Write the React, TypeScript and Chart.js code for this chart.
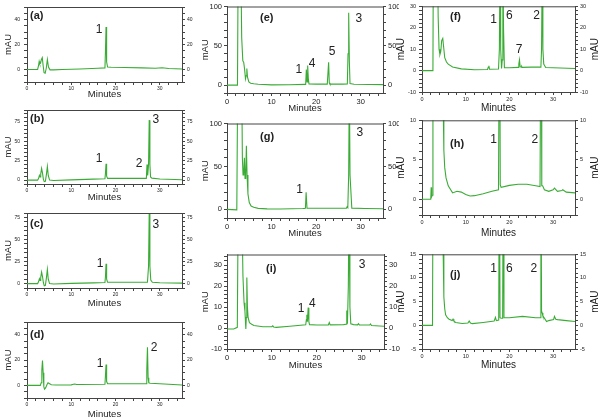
import React, { useEffect, useRef } from 'react';
import { Chart, registerables } from 'chart.js';
Chart.register(...registerables);

const FONT = '"Liberation Sans", Arial, Helvetica, sans-serif';
const GREEN = '#3aac35';
const AXIS = '#444444';

// ---------- Panel (a) ----------
const aTime = [0, 2.4, 2.6, 2.75, 2.9, 3.05, 3.25, 3.45, 3.65, 3.85, 4.1, 4.35, 4.6, 4.85, 5.2, 6, 8, 12, 16, 17.6, 17.72, 17.85, 17.98, 18.2, 19, 22, 26, 29, 30.5, 32, 35];
const aMAU = [0, 0, 3, 6.5, 4.5, 5, 8, 9.5, 3, -2.5, -3, 1, 8, 2, -0.3, -0.3, 0, 0.4, 1.0, 1.3, 15, 34, 6, 2, 1.8, 1.6, 1.3, 1.0, 1.4, 0.8, 0.4];
const aPeakText = ['1'];
const aPeakX = [16.3];
const aPeakY = [32];
const aYTicks = [0, 20, 40];

// ---------- Panel (b) ----------
const bTime = [0, 2.4, 2.6, 2.8, 2.95, 3.1, 3.3, 3.5, 3.7, 3.9, 4.15, 4.4, 4.6, 4.8, 5.1, 6, 10, 15, 17.6, 17.72, 17.85, 17.98, 18.2, 22, 26.95, 27.1, 27.25, 27.45, 27.6, 27.75, 27.9, 28.2, 30, 35];
const bMAU = [0, 0, 2, 6, 4, 8, 15, 9, 1, -2, -1.5, 8, 17.5, 6, 0, -0.5, 0.3, 1.2, 1.8, 9, 21, 5, 2.2, 2.2, 2.2, 20, 6, 20, 77, 20, 4, 2.5, 1.5, 0.5];
const bPeakText = ['1', '2', '3'];
const bPeakX = [16.3, 25.3, 29.1];
const bPeakY = [28, 21.5, 77];
const bYTicks = [0, 25, 50, 75];

// ---------- Panel (c) ----------
const cTime = [0, 2.4, 2.6, 2.8, 2.95, 3.1, 3.3, 3.5, 3.7, 3.9, 4.15, 4.4, 4.6, 4.8, 5.1, 6, 10, 15, 17.6, 17.72, 17.85, 17.98, 18.2, 22, 27.2, 27.45, 27.6, 27.75, 27.95, 28.3, 30, 35];
const cMAU = [0, 0, 2, 5.5, 3.5, 7, 13, 8, 1, -2.5, -2, 7, 16, 5, 0, -0.5, 0.2, 0.8, 1.2, 8, 22.5, 5, 1.5, 1.5, 1.5, 20, 82, 20, 4, 1.5, 1.0, 0.5];
const cPeakText = ['1', '3'];
const cPeakX = [16.5, 29.1];
const cPeakY = [23, 66.5];
const cYTicks = [0, 25, 50, 75];

// ---------- Panel (d) ----------
const dTime = [0, 3.0, 3.2, 3.35, 3.5, 3.65, 3.8, 3.95, 4.2, 4.5, 4.75, 5.0, 5.5, 6.5, 10, 10.5, 10.8, 11.2, 12, 17.6, 17.72, 17.85, 17.98, 18.2, 22, 26.9, 27.05, 27.2, 27.35, 27.5, 27.8, 30, 35];
const dMAU = [0, 0, 2, 12, 19.5, 10, -1, -3, -2, 0.5, 2, 1.5, 0.5, 0.3, 0.4, 0.9, 1.1, 0.7, 0.6, 0.9, 8, 16.5, 3, 1.2, 1.2, 1.3, 12, 30, 6, 2, 1.6, 1.3, 0.3];
const dPeakText = ['1', '2'];
const dPeakX = [16.5, 28.7];
const dPeakY = [17, 29.6];
const dYTicks = [0, 20, 40];

// ---------- Panel (e) ----------
const eTime = [0, 2.35, 2.5, 3.1, 3.3, 3.55, 3.75, 3.95, 4.15, 4.3, 4.45, 4.6, 4.9, 5.3, 6, 7, 10, 14, 17.5, 17.65, 17.8, 17.95, 18.1, 18.25, 18.4, 20, 22.5, 22.65, 22.8, 22.95, 23.1, 26, 27.0, 27.15, 27.3, 27.45, 27.6, 28.5, 32, 35];
const eMAU = [0, 0, 150, 150, 60, 31, 29, 20, 8, 12, 21, 10, 4, 2.5, 1.8, 1.2, 0.3, 0.5, 1.0, 1.2, 20, 4, 25, 8, 1.5, 1.3, 1.3, 1.3, 29, 3, 1.3, 1.3, 1.5, 40, 92, 30, 2, 1.2, 0.8, 0.6];
const ePeakText = ['1', '4', '5', '3'];
const ePeakX = [16.1, 19.1, 23.6, 29.6];
const ePeakY = [20, 27, 43, 84];
const eYTicks = [0, 50, 100];

// ---------- Panel (g) ----------
const gTime = [0, 2.2, 2.4, 3.3, 3.45, 3.6, 3.75, 3.9, 4.05, 4.2, 4.35, 4.5, 4.7, 5.0, 5.4, 6, 7, 9, 12, 17, 17.45, 17.6, 17.75, 17.95, 20, 26.8, 26.95, 27.1, 27.3, 27.45, 27.6, 28, 31, 35];
const gMAU = [0, -0.5, 150, 150, 60, 40, 42, 60, 36, 40, 74, 40, 18, 8, 4, 2.5, 1.2, 0.6, 0.5, 1.0, 1.2, 1.5, 20, 1.3, 1.3, 1.5, 3, 2, 40, 150, 40, 1.5, 1.0, 0.7];
const gPeakText = ['1', '3'];
const gPeakX = [16.3, 29.8];
const gPeakY = [22.5, 89.6];
const gYTicks = [0, 50, 100];

// ---------- Panel (i) ----------
const iTime = [0, 1.5, 2.3, 2.5, 3.3, 3.55, 3.8, 4.0, 4.2, 4.3, 4.42, 4.55, 4.7, 5.0, 5.5, 6, 8, 10, 10.2, 10.4, 11, 14, 17.55, 17.7, 17.8, 17.92, 18.1, 18.25, 18.4, 20, 22.6, 22.8, 23.0, 26, 26.55, 26.7, 26.85, 27.05, 27.2, 27.4, 27.6, 28.2, 29.1, 29.3, 29.5, 31.8, 32, 32.2, 35];
const iMAU = [-0.5, -0.5, 0.3, 60, 60, 25, 12, 8, -0.5, 5, 24, 10, 5, 2.5, 1.8, 1.2, 0.6, 0.6, 1.0, 0.5, 0.3, 0.8, 1.5, 4, 6.3, 3, 9.7, 3, 1.6, 1.4, 1.5, 2.6, 1.5, 1.6, 1.8, 8.3, 2, 20, 60, 10, 2, 1.6, 1.5, 2.1, 1.5, 1.4, 1.9, 1.2, 0.8];
const iPeakText = ['1', '4', '3'];
const iPeakX = [16.5, 19.0, 30.1];
const iPeakY = [9.4, 11.8, 30.3];
const iYTicks = [-10, 0, 10, 20, 30];

// ---------- Panel (f) ----------
const fTime = [0, 2.5, 2.6, 3.5, 3.7, 3.9, 4.1, 4.3, 4.5, 4.75, 4.95, 5.2, 5.6, 6, 7, 9, 12, 15, 15.15, 15.3, 15.45, 17.5, 17.7, 17.85, 18.0, 18.2, 18.35, 18.5, 18.65, 18.85, 20, 22, 22.15, 22.3, 22.45, 22.7, 22.8, 22.9, 25, 27.2, 27.35, 27.5, 27.65, 27.85, 28.0, 28.3, 30, 35];
const fMAU = [0, 0, 60, 60, 25, 10, 7.5, 9, 14, 15, 11, 6, 4, 3, 1.7, 0.8, 0.4, 0.5, 1.5, 2.2, 0.6, 0.7, 10, 50, 10, 1.0, 5, 50, 20, 1.3, 1.3, 1.5, 3, 5, 1.8, 1.6, 1.9, 1.5, 1.6, 1.6, 10, 50, 10, 3, 2.5, 1.4, 1.3, 1.0];
const fPeakText = ['1', '6', '2', '7'];
const fPeakX = [16.4, 20, 26.2, 22.2];
const fPeakY = [23.7, 25.8, 25.8, 9.8];
const fYTicks = [-10, 0, 10, 20, 30];

// ---------- Panel (h) ----------
const hTime = [0, 2.0, 2.1, 2.2, 2.35, 2.5, 4.7, 4.85, 5.0, 5.2, 5.5, 6, 7, 8, 9, 10, 11, 12, 14, 16, 17.5, 17.6, 17.75, 17.9, 18.1, 20, 22, 24, 26, 27.0, 27.1, 27.25, 27.4, 27.6, 28, 29, 30, 30.3, 31, 32, 32.2, 33, 35];
const hMAU = [0, 0, 1.5, 0.3, 0.5, 30, 30, 12, 6.2, 4, 2.7, 1.7, 0.8, 1.0, 0.9, 0.6, 0.4, 0.45, 0.7, 1.0, 1.2, 1.2, 30, 1.8, 1.5, 1.75, 1.9, 1.9, 1.7, 1.6, 1.6, 30, 1.7, 1.7, 1.2, 1.0, 1.2, 1.4, 1.0, 1.1, 1.2, 0.9, 0.8];
const hPeakText = ['1', '2'];
const hPeakX = [16.4, 25.8];
const hPeakY = [7.6, 7.6];
const hYTicks = [0, 5, 10];

// ---------- Panel (j) ----------
const jTime = [0, 2.4, 2.55, 4.7, 4.85, 5.0, 5.2, 5.4, 5.8, 6.2, 6.9, 7.1, 7.3, 7.7, 9.2, 10.5, 10.8, 11.1, 11.5, 14, 16.5, 16.8, 17.0, 17.55, 17.7, 17.85, 18.1, 18.45, 18.6, 18.75, 20, 23, 26, 27.05, 27.2, 27.35, 27.5, 27.65, 28.5, 29, 30.1, 30.3, 30.6, 31, 33, 35];
const jMAU = [0, 0, 40, 40, 15, 6, 3.5, 2.2, 1.6, 1.3, 1.0, 1.3, 0.9, 0.6, 0.4, 0.5, 0.9, 0.5, 0.35, 0.6, 0.9, 1.7, 1.0, 1.1, 40, 1.6, 1.5, 1.5, 40, 1.6, 1.6, 1.9, 1.6, 1.6, 40, 3, 2.6, 2.0, 0.8, 1.0, 1.2, 1.9, 1.3, 1.2, 1.0, 0.8];
const jPeakText = ['1', '6', '2'];
const jPeakX = [16.4, 20, 25.6];
const jPeakY = [12, 12, 12];
const jYTicks = [-5, 0, 5, 10, 15];

const xTicks = [0, 10, 20, 30];
const xMax = 35;

type Panel = {
  id: string;
  label: string;
  time: number[];
  mau: number[];
  peakText: string[];
  peakX: number[];
  peakY: number[];
  yTicks: number[];
  yMin: number;
  yMax: number;
  yMinor: number;
  left: number; right: number; top: number; bottom: number;
  padL: number; padR: number; padT: number; padB: number;
  tickSize: number; tickPadL: number; tickPadR: number; tickPadX: number;
  titleSize: number;
  minutesY: number;
  mauX: number;
  mauRX?: number;
  labelX: number; labelY: number;
};

const LEFT = { left: 27, right: 182, padL: 27, padR: 16, padB: 22, tickSize: 5, tickPadL: 4, tickPadR: 2, tickPadX: 1, titleSize: 9.5, mauX: 8, labelX: 30 };
const MID = { left: 227, right: 383, padL: 30, padR: 16, padB: 24, tickSize: 7.5, tickPadL: 2, tickPadR: 2, tickPadX: 1, titleSize: 9.5, mauX: 205, labelX: 260 };
const RIGHT = { left: 422, right: 575, padL: 28, padR: 25, padB: 24, tickSize: 5.5, tickPadL: 3, tickPadR: 2, tickPadX: 1, titleSize: 10, mauX: 401, mauRX: 595, labelX: 450 };

const panels: Panel[] = [
  { id: 'a', label: '(a)', time: aTime, mau: aMAU, peakText: aPeakText, peakX: aPeakX, peakY: aPeakY, yTicks: aYTicks, yMin: -10, yMax: 50, yMinor: 5, ...LEFT, top: 5, bottom: 82, padT: 5, minutesY: 94, labelY: 16 },
  { id: 'b', label: '(b)', time: bTime, mau: bMAU, peakText: bPeakText, peakX: bPeakX, peakY: bPeakY, yTicks: bYTicks, yMin: -5, yMax: 90, yMinor: 5, ...LEFT, top: 109, bottom: 184, padT: 6, minutesY: 197, labelY: 119 },
  { id: 'c', label: '(c)', time: cTime, mau: cMAU, peakText: cPeakText, peakX: cPeakX, peakY: cPeakY, yTicks: cYTicks, yMin: -5, yMax: 80, yMinor: 5, ...LEFT, top: 212, bottom: 288, padT: 6, minutesY: 303, labelY: 224 },
  { id: 'd', label: '(d)', time: dTime, mau: dMAU, peakText: dPeakText, peakX: dPeakX, peakY: dPeakY, yTicks: dYTicks, yMin: -10, yMax: 50, yMinor: 5, ...LEFT, top: 321, bottom: 398, padT: 6, minutesY: 414, labelY: 335 },
  { id: 'e', label: '(e)', time: eTime, mau: eMAU, peakText: ePeakText, peakX: ePeakX, peakY: ePeakY, yTicks: eYTicks, yMin: -10, yMax: 100, yMinor: 10, ...MID, top: 5, bottom: 93, padT: 5, minutesY: 108, labelY: 18 },
  { id: 'g', label: '(g)', time: gTime, mau: gMAU, peakText: gPeakText, peakX: gPeakX, peakY: gPeakY, yTicks: gYTicks, yMin: -10, yMax: 100, yMinor: 10, ...MID, top: 123, bottom: 218, padT: 6, minutesY: 233, labelY: 137 },
  { id: 'i', label: '(i)', time: iTime, mau: iMAU, peakText: iPeakText, peakX: iPeakX, peakY: iPeakY, yTicks: iYTicks, yMin: -10, yMax: 35, yMinor: 2, ...MID, right: 384, top: 254, bottom: 349, padT: 6, minutesY: 365, labelY: 269, labelX: 266 },
  { id: 'f', label: '(f)', time: fTime, mau: fMAU, peakText: fPeakText, peakX: fPeakX, peakY: fPeakY, yTicks: fYTicks, yMin: -10, yMax: 30, yMinor: 2, ...RIGHT, top: 5, bottom: 92, padT: 5, minutesY: 108, labelY: 17 },
  { id: 'h', label: '(h)', time: hTime, mau: hMAU, peakText: hPeakText, peakX: hPeakX, peakY: hPeakY, yTicks: hYTicks, yMin: -2, yMax: 10, yMinor: 1, ...RIGHT, top: 120, bottom: 215, padT: 6, minutesY: 233, labelY: 144 },
  { id: 'j', label: '(j)', time: jTime, mau: jMAU, peakText: jPeakText, peakX: jPeakX, peakY: jPeakY, yTicks: jYTicks, yMin: -5, yMax: 15, yMinor: 1, ...RIGHT, top: 254, bottom: 349, padT: 6, minutesY: 365, labelY: 275 },
];

function stepValues(min: number, max: number, step: number): number[] {
  const out: number[] = [];
  const start = Math.ceil(min / step - 1e-9) * step;
  for (let v = start; v <= max + 1e-9; v += step) out.push(Math.round(v * 1000) / 1000);
  return out;
}

function PanelChart({ p }: { p: Panel }) {
  const ref = useRef<HTMLCanvasElement | null>(null);
  const cLeft = p.left - p.padL;
  const cTop = p.top - p.padT;
  const w = p.right - p.left + p.padL + p.padR;
  const h = p.bottom - p.top + p.padT + p.padB;

  useEffect(() => {
    if (!ref.current) return;
    const yTickVals = stepValues(p.yMin, p.yMax, p.yMinor);
    const xTickVals = stepValues(0, xMax, 2);
    const tickFont = { family: FONT, size: p.tickSize };
    const grid = { display: true, drawOnChartArea: false, drawTicks: true, tickLength: 3, color: AXIS, lineWidth: 1 };
    const border = { display: true, color: AXIS, width: 1 };
    const yLabel = (v: any) => (p.yTicks.some((t) => Math.abs(t - Number(v)) < 1e-6) ? String(v) : '');

    const deco = {
      id: 'deco' + p.id,
      afterDraw(chart: any) {
        const ctx = chart.ctx as CanvasRenderingContext2D;
        const a = chart.chartArea;
        const xs = chart.scales.x;
        const ys = chart.scales.y;
        ctx.save();
        ctx.strokeStyle = AXIS;
        ctx.lineWidth = 1;
        ctx.beginPath();
        ctx.moveTo(a.left, a.top + 0.5);
        ctx.lineTo(a.right, a.top + 0.5);
        ctx.stroke();

        ctx.fillStyle = '#222';
        ctx.textAlign = 'center';
        ctx.textBaseline = 'middle';
        // Minutes
        ctx.font = `${p.titleSize}px ${FONT}`;
        ctx.fillText('Minutes', (a.left + a.right) / 2, p.minutesY - cTop);
        // mAU left
        const cy = (a.top + a.bottom) / 2;
        ctx.save();
        ctx.translate(p.mauX - cLeft, cy);
        ctx.rotate(-Math.PI / 2);
        ctx.fillText('mAU', 0, 0);
        ctx.restore();
        if (p.mauRX !== undefined) {
          ctx.save();
          ctx.translate(p.mauRX - cLeft, cy);
          ctx.rotate(-Math.PI / 2);
          ctx.fillText('mAU', 0, 0);
          ctx.restore();
        }
        // panel label
        ctx.font = `bold 11px ${FONT}`;
        ctx.textAlign = 'left';
        ctx.fillText(p.label, p.labelX - cLeft, p.labelY - cTop);
        // peak labels
        ctx.font = `12px ${FONT}`;
        ctx.textAlign = 'center';
        p.peakText.forEach((t, i) => {
          ctx.fillText(t, xs.getPixelForValue(p.peakX[i]), ys.getPixelForValue(p.peakY[i]));
        });
        ctx.restore();
      },
    };

    const chart = new Chart(ref.current, {
      type: 'line',
      data: {
        datasets: [
          {
            data: p.time.map((t, i) => ({ x: t, y: p.mau[i] })),
            borderColor: GREEN,
            borderWidth: 1.1,
            pointRadius: 0,
            tension: 0,
            fill: false,
          },
        ],
      },
      options: {
        animation: false,
        responsive: false,
        events: [],
        layout: { padding: { top: p.padT, left: 0, right: 0, bottom: 0 } },
        plugins: { legend: { display: false }, tooltip: { enabled: false }, title: { display: false } },
        scales: {
          x: {
            type: 'linear',
            position: 'bottom',
            min: 0,
            max: xMax,
            afterFit: (s: any) => { s.height = p.padB; },
            afterBuildTicks: (s: any) => { s.ticks = xTickVals.map((v) => ({ value: v })); },
            ticks: {
              autoSkip: false,
              maxRotation: 0,
              padding: p.tickPadX,
              color: '#222',
              font: tickFont,
              callback: (v: any) => (xTicks.includes(Number(v)) ? String(v) : ''),
            },
            grid,
            border,
          },
          y: {
            type: 'linear',
            position: 'left',
            min: p.yMin,
            max: p.yMax,
            afterFit: (s: any) => { s.width = p.padL; },
            afterBuildTicks: (s: any) => { s.ticks = yTickVals.map((v) => ({ value: v })); },
            ticks: { autoSkip: false, padding: p.tickPadL, color: '#222', font: tickFont, callback: yLabel },
            grid,
            border,
          },
          y2: {
            type: 'linear',
            position: 'right',
            min: p.yMin,
            max: p.yMax,
            afterFit: (s: any) => { s.width = p.padR; },
            afterBuildTicks: (s: any) => { s.ticks = yTickVals.map((v) => ({ value: v })); },
            ticks: { autoSkip: false, padding: p.tickPadR, color: '#222', font: tickFont, callback: yLabel },
            grid,
            border,
          },
        },
      } as any,
      plugins: [deco],
    });
    return () => chart.destroy();
  }, [p]);

  return (
    <canvas
      ref={ref}
      width={w}
      height={h}
      style={{ position: 'absolute', left: cLeft + 'px', top: cTop + 'px', width: w + 'px', height: h + 'px' }}
    />
  );
}

export default function App() {
  return (
    <div style={{ position: 'absolute', left: 0, top: 0, width: 600, height: 418, background: '#fff', overflow: 'hidden' }}>
      {panels.map((p) => (
        <PanelChart key={p.id} p={p} />
      ))}
    </div>
  );
}
